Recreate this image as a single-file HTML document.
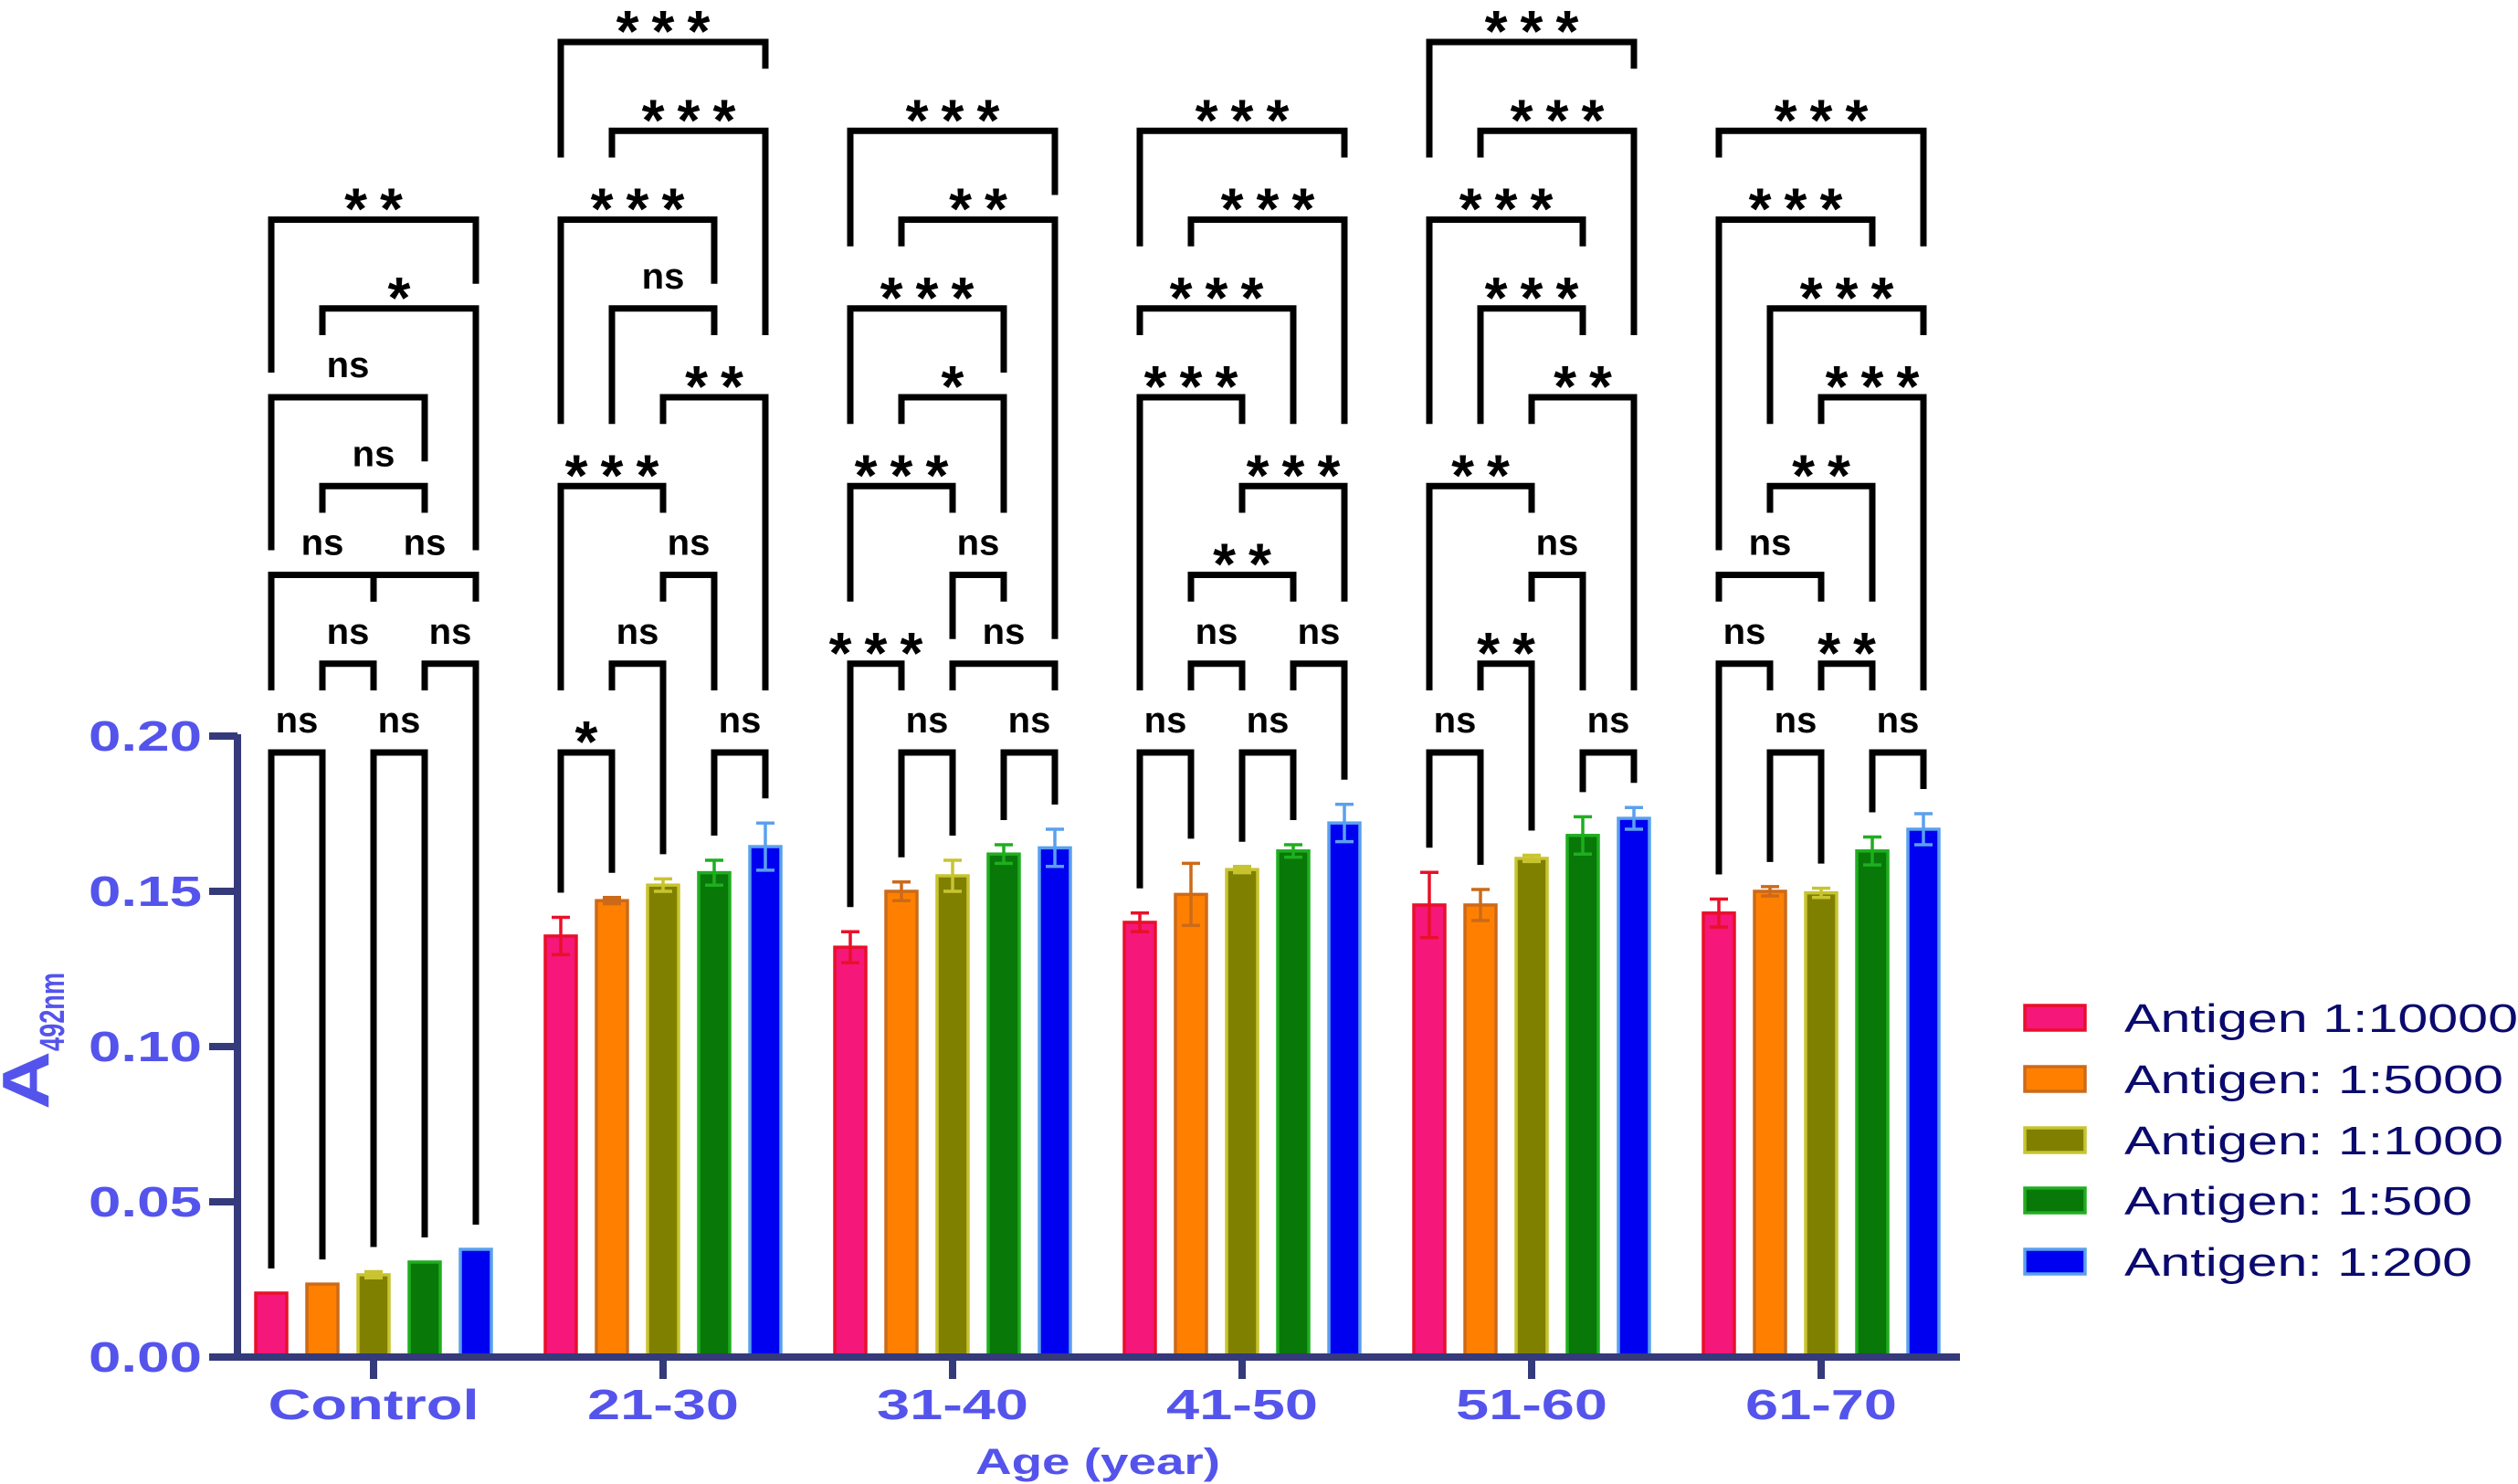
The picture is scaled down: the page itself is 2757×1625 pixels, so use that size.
<!DOCTYPE html>
<html><head><meta charset="utf-8"><style>
html,body{margin:0;padding:0;background:#fff;}
svg{display:block;}
</style></head><body>
<svg id="chart" width="2757" height="1625" viewBox="0 0 2757 1625" xmlns="http://www.w3.org/2000/svg" font-family="'Liberation Sans', Arial, sans-serif">
<g id="brackets"></g>
<g id="bars"></g>
<g id="axes"></g>
<g id="legend"></g>
</svg>
<script>
const categories = ["Control","21-30","31-40","41-50","51-60","61-70"];
const seriesNames = ["Antigen 1:10000","Antigen: 1:5000","Antigen: 1:1000","Antigen: 1:500","Antigen: 1:200"];
const s1_10000 = [0.0206,0.1356,0.132,0.140,0.1456,0.143];
const s1_5000  = [0.0235,0.147,0.150,0.149,0.1456,0.150];
const s1_1000  = [0.0265,0.152,0.155,0.157,0.1606,0.1495];
const s1_500   = [0.0306,0.156,0.162,0.163,0.168,0.163];
const s1_200   = [0.0347,0.1644,0.164,0.172,0.1735,0.170];
const e1_10000 = [0,0.006,0.005,0.003,0.0105,0.0045];
const e1_5000  = [0,0.001,0.003,0.010,0.005,0.0015];
const e1_1000  = [0.001,0.002,0.005,0.001,0.001,0.0015];
const e1_500   = [0,0.004,0.003,0.002,0.006,0.0045];
const e1_200   = [0,0.0076,0.006,0.006,0.0035,0.005];
const yTicks = [0,0.05,0.10,0.15,0.20];
const yTickLabels = ["0.00","0.05","0.10","0.15","0.20"];
// comparisons per group: [barA, barB, row, label]
const cmpControl = [[0,1,0,"ns"],[2,3,0,"ns"],[1,2,1,"ns"],[3,4,1,"ns"],[0,2,2,"ns"],[2,4,2,"ns"],[1,3,3,"ns"],[0,3,4,"ns"],[1,4,5,"*"],[0,4,6,"**"]];
const cmp21 = [[0,1,0,"*"],[3,4,0,"ns"],[1,2,1,"ns"],[2,3,2,"ns"],[0,2,3,"***"],[2,4,4,"**"],[1,3,5,"ns"],[0,3,6,"***"],[1,4,7,"***"],[0,4,8,"***"]];
const cmp31 = [[1,2,0,"ns"],[3,4,0,"ns"],[0,1,1,"***"],[2,4,1,"ns"],[2,3,2,"ns"],[0,2,3,"***"],[1,3,4,"*"],[0,3,5,"***"],[1,4,6,"**"],[0,4,7,"***"]];
const cmp41 = [[0,1,0,"ns"],[2,3,0,"ns"],[1,2,1,"ns"],[3,4,1,"ns"],[1,3,2,"**"],[2,4,3,"***"],[0,2,4,"***"],[0,3,5,"***"],[1,4,6,"***"],[0,4,7,"***"]];
const cmp51 = [[0,1,0,"ns"],[3,4,0,"ns"],[1,2,1,"**"],[2,3,2,"ns"],[0,2,3,"**"],[2,4,4,"**"],[1,3,5,"***"],[0,3,6,"***"],[1,4,7,"***"],[0,4,8,"***"]];
const cmp61 = [[1,2,0,"ns"],[3,4,0,"ns"],[0,1,1,"ns"],[2,3,1,"**"],[0,2,2,"ns"],[1,3,3,"**"],[2,4,4,"***"],[1,4,5,"***"],[0,3,6,"***"],[0,4,7,"***"]];

const values = [s1_10000,s1_5000,s1_1000,s1_500,s1_200];
const errors = [e1_10000,e1_5000,e1_1000,e1_500,e1_200];
const comparisons = [cmpControl,cmp21,cmp31,cmp41,cmp51,cmp61];
const fills = ["#f5177a","#ff8000","#808000","#087808","#0000f0"];
const strokes = ["#e8102a","#cc6a1a","#c8c430","#1fae1f","#5aa0ee"];

const NS="http://www.w3.org/2000/svg";
function mk(tag, attrs, parent){const e=document.createElementNS(NS,tag);for(const k in attrs)e.setAttribute(k,attrs[k]);parent.appendChild(e);return e;}
const Y0=1486, YPER=3400;
function yScale(v){return Y0 - v*YPER;}
function groupX(g){return 409 + g*317;}
function barX(g,s){return groupX(g) + (s-2)*56;}
function rowY(r){return 824 - 97.25*r;}
function labelHalf(lab){return lab==="ns"?28:(lab.length*24+8);}

const gBars=document.getElementById('bars');
const gAx=document.getElementById('axes');
const gBr=document.getElementById('brackets');
const gLeg=document.getElementById('legend');

for(let g=0; g<categories.length; g++){
  for(let s=0; s<5; s++){
    const v=values[s][g], e=errors[s][g];
    const cx=barX(g,s), top=yScale(v);
    const r=mk('rect',{x:cx-17,y:top,width:34,height:Y0-top,fill:fills[s],stroke:strokes[s],'stroke-width':3.5},gBars);
    
    
    if(e>0){
      const eg=mk('g',{stroke:strokes[s],'stroke-width':3.5},gBars);
      
      
      const t=yScale(v+e), b=yScale(v-e);
      mk('line',{x1:cx,y1:t,x2:cx,y2:b},eg);
      mk('line',{x1:cx-10,y1:t,x2:cx+10,y2:t},eg);
      mk('line',{x1:cx-10,y1:b,x2:cx+10,y2:b},eg);
    }
  }
}

for(let g=0; g<categories.length; g++){
  const list=comparisons[g];
  for(const c of list){
    const [a,b,row,lab]=c;
    const y=rowY(row);
    const legEnd = (bar)=>{
      const bx=barX(g,bar);
      let end=null;
      for(const d of list){
        if(d[2]>=row) continue;
        if(d[0]<=bar && d[1]>=bar){
          let e=rowY(d[2])-27;
          const lm=(barX(g,d[0])+barX(g,d[1]))/2;
          if(Math.abs(bx-lm)<labelHalf(d[3])+6) e=rowY(d[2])-68;
          if(end===null||e<end) end=e;
        }
      }
      if(end!==null) return Math.max(end, y+22);
      return yScale(values[bar][g]+errors[bar][g])-27;
    };
    const xa=barX(g,a), xb=barX(g,b);
    const p=mk('path',{d:`M${xa},${legEnd(a)} L${xa},${y} L${xb},${y} L${xb},${legEnd(b)}`,fill:'none',stroke:'#000','stroke-width':7,'stroke-linejoin':'miter'},gBr);
    
    
    const mx=(xa+xb)/2;
    let t;
    if(lab==="ns"){
      t=mk('text',{x:mx,y:y-22,'text-anchor':'middle','font-size':40,'font-weight':'bold',fill:'#000'},gBr);
    } else {
      t=mk('text',{x:mx+7,y:y+10,'text-anchor':'middle','font-size':64,'font-weight':'bold',fill:'#000','letter-spacing':14},gBr);
    }
    t.textContent=lab;
    
    
  }
}

const axCol="#343a7a", lblCol="#5454ec";
mk('line',{x1:260,y1:804,x2:260,y2:Y0+3,stroke:axCol,'stroke-width':8},gAx);
mk('line',{x1:256,y1:Y0,x2:2146,y2:Y0,stroke:axCol,'stroke-width':8},gAx);
for(let i=0;i<yTicks.length;i++){
  const y=yScale(yTicks[i]);
  mk('line',{x1:229,y1:y,x2:260,y2:y,stroke:axCol,'stroke-width':8},gAx);
  const t=mk('text',{x:221,y:y+16,'text-anchor':'end','font-size':46,'font-weight':'bold',fill:lblCol,textLength:124,lengthAdjust:'spacingAndGlyphs'},gAx);
  t.textContent=yTickLabels[i];
  
  
}
for(let g=0; g<categories.length; g++){
  const x=groupX(g);
  mk('line',{x1:x,y1:Y0,x2:x,y2:Y0+24,stroke:axCol,'stroke-width':8},gAx);
  const t=mk('text',{x:x,y:1554,'text-anchor':'middle','font-size':46,'font-weight':'bold',fill:lblCol,textLength:(g===0?231:166),lengthAdjust:'spacingAndGlyphs'},gAx);
  t.textContent=categories[g];
  
  
}
const xt=mk('text',{x:1202,y:1614,'text-anchor':'middle','font-size':40,'font-weight':'bold',fill:lblCol,textLength:268,lengthAdjust:'spacingAndGlyphs'},gAx);
xt.textContent="Age (year)";


const yt=mk('text',{transform:'translate(53,1215) rotate(-90)','font-weight':'bold',fill:lblCol},gAx);


const ta=mk('tspan',{'font-size':72,textLength:64,lengthAdjust:'spacingAndGlyphs'},yt); ta.textContent="A";
const tb=mk('tspan',{'font-size':38,dy:17,textLength:86,lengthAdjust:'spacingAndGlyphs'},yt); tb.textContent="492nm";

const legY=[1114,1181,1248,1314,1381];
const legW=[431,415,415,381,381];
for(let s=0;s<5;s++){
  const lg=mk('g',{},gLeg);
  
  
  mk('rect',{x:2217,y:legY[s]-13,width:66,height:27,fill:fills[s],stroke:strokes[s],'stroke-width':3.5},lg);
  const t=mk('text',{x:2326,y:legY[s]+16,'font-size':44,fill:'#0a0a6e',textLength:legW[s],lengthAdjust:'spacingAndGlyphs'},lg);
  t.textContent=seriesNames[s];
}
</script>
</body></html>
